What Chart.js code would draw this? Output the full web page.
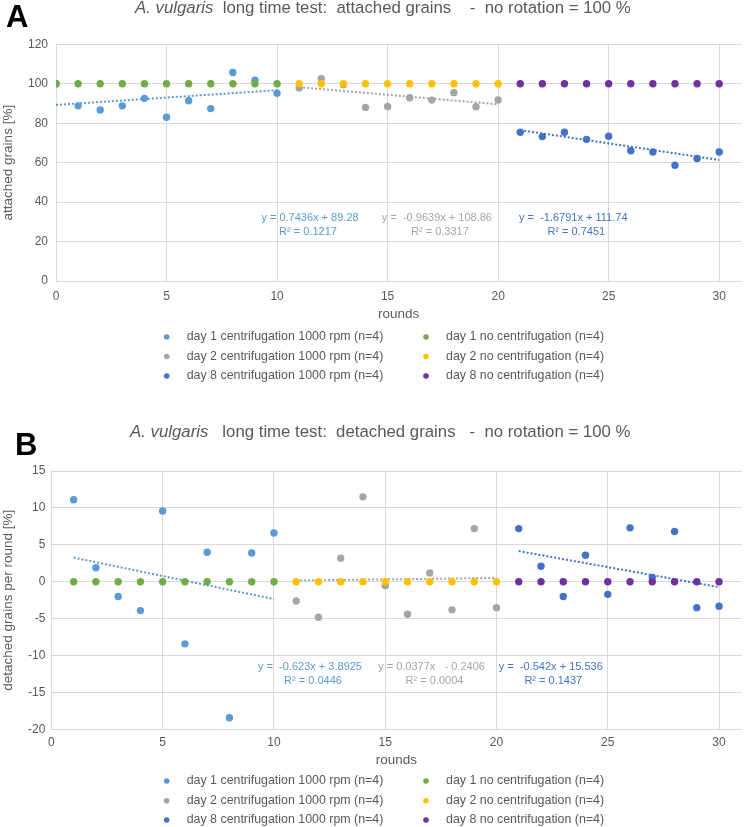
<!DOCTYPE html>
<html>
<head>
<meta charset="utf-8">
<script src="https://cdn.jsdelivr.net/npm/chart.js@4.4.1/dist/chart.umd.min.js"></script>
<style>
  html,body{margin:0;padding:0;background:#fff;}
  body{width:745px;height:827px;position:relative;overflow:hidden;}
  canvas{position:absolute;left:0;}
  #cA{top:0;}
  #cB{top:415px;}
</style>
</head>
<body>
<canvas id="cA" width="745" height="410"></canvas>
<canvas id="cB" width="745" height="412"></canvas>
<script>
// ---------------- DATA ----------------
const seriesLabels = [
  "day 1 centrifugation 1000 rpm (n=4)",
  "day 1 no centrifugation (n=4)",
  "day 2 centrifugation 1000 rpm (n=4)",
  "day 2 no centrifugation (n=4)",
  "day 8 centrifugation 1000 rpm (n=4)",
  "day 8 no centrifugation (n=4)"
];
const xTickValues = [0, 5, 10, 15, 20, 25, 30];

// Panel A: attached grains [%]
const roundsA_day1 = [0, 1, 2, 3, 4, 5, 6, 7, 8, 9, 10];
const roundsA_day2 = [11, 12, 13, 14, 15, 16, 17, 18, 19, 20];
const roundsA_day8 = [21, 22, 23, 24, 25, 26, 27, 28, 29, 30];
const attachedDay1Cent = [100, 88.8, 86.7, 88.8, 92.6, 83.0, 91.4, 87.4, 105.7, 101.8, 95.2];
const attachedDay1None = [100, 100, 100, 100, 100, 100, 100, 100, 100, 100, 100];
const attachedDay2Cent = [97.8, 102.6, 99.5, 88.0, 88.5, 92.9, 91.7, 95.5, 88.4, 91.8];
const attachedDay2None = [100, 100, 100, 100, 100, 100, 100, 100, 100, 100];
const attachedDay8Cent = [75.4, 73.2, 75.4, 71.8, 73.4, 66.0, 65.4, 58.7, 62.1, 65.4];
const attachedDay8None = [100, 100, 100, 100, 100, 100, 100, 100, 100, 100];
const trendA_slope = [0.7436, -0.9639, -1.6791];
const trendA_intercept = [89.28, 108.86, 111.74];
const trendA_range = [[0, 10], [11, 20], [21, 30]];
const trendA_eq = ["y = 0.7436x + 89.28", "y =  -0.9639x + 108.86", "y =  -1.6791x + 111.74"];
const trendA_r2 = ["R\u00B2 = 0.1217", "R\u00B2 = 0.3317", "R\u00B2 = 0.7451"];

// Panel B: detached grains per round [%]
const roundsB_day1 = [1, 2, 3, 4, 5, 6, 7, 8, 9, 10];
const roundsB_day2 = [11, 12, 13, 14, 15, 16, 17, 18, 19, 20];
const roundsB_day8 = [21, 22, 23, 24, 25, 26, 27, 28, 29, 30];
const detachedDay1Cent = [11.1, 1.9, -2.0, -3.9, 9.6, -8.4, 4.0, -18.4, 3.9, 6.6];
const detachedDay1None = [0, 0, 0, 0, 0, 0, 0, 0, 0, 0];
const detachedDay2Cent = [-2.6, -4.8, 3.2, 11.5, -0.5, -4.4, 1.2, -3.8, 7.2, -3.5];
const detachedDay2None = [0, 0, 0, 0, 0, 0, 0, 0, 0, 0];
const detachedDay8Cent = [7.2, 2.1, -2.0, 3.6, -1.7, 7.3, 0.6, 6.8, -3.5, -3.3];
const detachedDay8None = [0, 0, 0, 0, 0, 0, 0, 0, 0, 0];
const trendB_slope = [-0.623, 0.0377, -0.542];
const trendB_intercept = [3.8925, -0.2406, 15.536];
const trendB_range = [[1, 10], [11, 20], [21, 30]];
const trendB_eq = ["y =  -0.623x + 3.8925", "y = 0.0377x   - 0.2406", "y =  -0.542x + 15.536"];
const trendB_r2 = ["R\u00B2 = 0.0446", "R\u00B2 = 0.0004", "R\u00B2 = 0.1437"];

// ---------------- STYLE ----------------
const COLORS = ['#5B9BD5', '#70AD47', '#A5A5A5', '#FFC000', '#4472C4', '#7030A0'];
const TREND_COLORS = [COLORS[0], COLORS[2], COLORS[4]];
const FONT = '"Liberation Sans", Arial, sans-serif';
const TEXT_GRAY = '#595959';
const GRID = '#D9D9D9';

function pts(xs, ys) { return xs.map((x, i) => ({x: x, y: ys[i]})); }
function trendPts(slope, intercept, range) {
  return range.map(x => ({x: x, y: slope * x + intercept}));
}

const decor = {
  id: 'decor',
  afterDraw(chart, args, o) {
    const ctx = chart.ctx;
    ctx.save();
    // panel letter
    ctx.textAlign = 'left';
    ctx.textBaseline = 'alphabetic';
    ctx.fillStyle = '#000';
    ctx.font = 'bold 31px ' + FONT;
    ctx.fillText(o.panel, o.panelX, o.panelY);
    // title (mixed italic)
    ctx.fillStyle = TEXT_GRAY;
    let x = o.titleX;
    o.titleParts.forEach(p => {
      ctx.font = (p.italic ? 'italic ' : '') + '16.8px ' + FONT;
      ctx.fillText(p.text, x, o.titleY);
      x += ctx.measureText(p.text).width;
    });
    // trendline equations
    const xs = chart.scales.x, ys = chart.scales.y;
    ctx.font = '11px ' + FONT;
    ctx.textAlign = 'center';
    ctx.textBaseline = 'middle';
    o.eqs.forEach(e => {
      const px = xs.getPixelForValue(e.x), py = ys.getPixelForValue(e.y);
      ctx.fillStyle = e.color;
      ctx.fillText(e.line1, px, py);
      ctx.fillText(e.line2, px + e.dx2, py + 13.5);
    });
    // legend (two columns)
    ctx.textAlign = 'left';
    ctx.font = '12.4px ' + FONT;
    o.legend.forEach(it => {
      ctx.fillStyle = it.color;
      ctx.beginPath();
      ctx.arc(it.mx, it.my, 2.8, 0, Math.PI * 2);
      ctx.fill();
      ctx.fillStyle = TEXT_GRAY;
      ctx.fillText(it.text, it.mx + 20, it.my);
    });
    ctx.restore();
  }
};

function legendItems(rowsY) {
  const colX = [166.7, 426];
  const items = [];
  seriesLabels.forEach((lab, i) => {
    items.push({text: lab, color: COLORS[i], mx: colX[i % 2], my: rowsY[Math.floor(i / 2)]});
  });
  return items;
}

function buildChart(id, cfg) {
  const datasets = [];
  cfg.series.forEach((s, i) => {
    datasets.push({
      type: 'scatter',
      label: seriesLabels[i],
      data: pts(s.x, s.y),
      backgroundColor: COLORS[i],
      borderWidth: 0,
      pointRadius: 3.7,
      pointHoverRadius: 3.7,
      order: (i % 2 === 1) ? 0 : 1
    });
  });
  cfg.trends.forEach((t, i) => {
    datasets.push({
      type: 'line',
      label: 'trend ' + i,
      data: trendPts(t.slope, t.intercept, t.range),
      borderColor: TREND_COLORS[i],
      borderWidth: 2,
      borderDash: [2, 2],
      pointRadius: 0,
      fill: false,
      order: 2
    });
  });
  return new Chart(document.getElementById(id), {
    type: 'scatter',
    data: {datasets: datasets},
    options: {
      responsive: false,
      animation: false,
      devicePixelRatio: 1,
      events: [],
      layout: {padding: cfg.padding},
      plugins: {legend: {display: false}, tooltip: {enabled: false}, decor: cfg.decor},
      scales: {
        x: {
          type: 'linear', min: 0, max: 31,
          afterBuildTicks: sc => { sc.ticks = xTickValues.map(v => ({value: v})); },
          afterFit: sc => { sc.height = cfg.xAxisH; },
          grid: {color: GRID, lineWidth: 1, drawTicks: false},
          border: {color: GRID},
          ticks: {color: TEXT_GRAY, font: {family: FONT, size: 12}, padding: cfg.xTickPad, maxRotation: 0},
          title: {display: true, text: 'rounds', color: TEXT_GRAY, font: {family: FONT, size: 13.5}, padding: {top: 0, bottom: cfg.xTitlePad}}
        },
        y: {
          min: cfg.yMin, max: cfg.yMax,
          ticks: {stepSize: cfg.yStep, color: TEXT_GRAY, font: {family: FONT, size: 12}, padding: cfg.yTickPad},
          afterFit: sc => { sc.width = cfg.yAxisW; },
          grid: {color: GRID, lineWidth: 1, drawTicks: false},
          border: {color: GRID},
          title: {display: true, text: cfg.yTitle, color: TEXT_GRAY, font: {family: FONT, size: 13.5}, padding: {top: 0, bottom: 0}}
        }
      }
    },
    plugins: [decor]
  });
}

// Panel A
buildChart('cA', {
  series: [
    {x: roundsA_day1, y: attachedDay1Cent}, {x: roundsA_day1, y: attachedDay1None},
    {x: roundsA_day2, y: attachedDay2Cent}, {x: roundsA_day2, y: attachedDay2None},
    {x: roundsA_day8, y: attachedDay8Cent}, {x: roundsA_day8, y: attachedDay8None}
  ],
  trends: trendA_slope.map((s, i) => ({slope: s, intercept: trendA_intercept[i], range: trendA_range[i]})),
  padding: {top: 44.3, right: 1, left: 0, bottom: 84},
  xAxisH: 45, xTickPad: 8, xTitlePad: 4,
  yAxisW: 56, yTickPad: 8,
  yMin: 0, yMax: 120, yStep: 20,
  yTitle: 'attached grains [%]',
  decor: {
    panel: 'A', panelX: 6, panelY: 27,
    titleX: 135, titleY: 13,
    titleParts: [{text: 'A. vulgaris', italic: true}, {text: '  long time test:  attached grains    -  no rotation = 100 %'}],
    eqs: [
      {x: 11.49, y: 31.9, dx2: -2, color: TREND_COLORS[0], line1: trendA_eq[0], line2: trendA_r2[0]},
      {x: 17.23, y: 31.9, dx2: 3, color: TREND_COLORS[1], line1: trendA_eq[1], line2: trendA_r2[1]},
      {x: 23.40, y: 31.9, dx2: 3, color: TREND_COLORS[2], line1: trendA_eq[2], line2: trendA_r2[2]}
    ],
    legend: legendItems([337, 356.5, 376])
  }
});

// Panel B
buildChart('cB', {
  series: [
    {x: roundsB_day1, y: detachedDay1Cent}, {x: roundsB_day1, y: detachedDay1None},
    {x: roundsB_day2, y: detachedDay2Cent}, {x: roundsB_day2, y: detachedDay2None},
    {x: roundsB_day8, y: detachedDay8Cent}, {x: roundsB_day8, y: detachedDay8None}
  ],
  trends: trendB_slope.map((s, i) => ({slope: s, intercept: trendB_intercept[i], range: trendB_range[i]})),
  padding: {top: 56, right: 3.5, left: 0, bottom: 52.5},
  xAxisH: 45, xTickPad: 6, xTitlePad: 5.7,
  yAxisW: 51.4, yTickPad: 6,
  yMin: -20, yMax: 15, yStep: 5,
  yTitle: 'detached grains per round [%]',
  decor: {
    panel: 'B', panelX: 15, panelY: 40,
    titleX: 130, titleY: 22,
    titleParts: [{text: 'A. vulgaris', italic: true}, {text: '   long time test:  detached grains   -  no rotation = 100 %'}],
    eqs: [
      {x: 11.62, y: -11.56, dx2: 3, color: TREND_COLORS[0], line1: trendB_eq[0], line2: trendB_r2[0]},
      {x: 17.08, y: -11.56, dx2: 3, color: TREND_COLORS[1], line1: trendB_eq[1], line2: trendB_r2[1]},
      {x: 22.44, y: -11.56, dx2: 2.5, color: TREND_COLORS[2], line1: trendB_eq[2], line2: trendB_r2[2]}
    ],
    legend: legendItems([366, 385.7, 405])
  }
});
</script>
</body>
</html>
